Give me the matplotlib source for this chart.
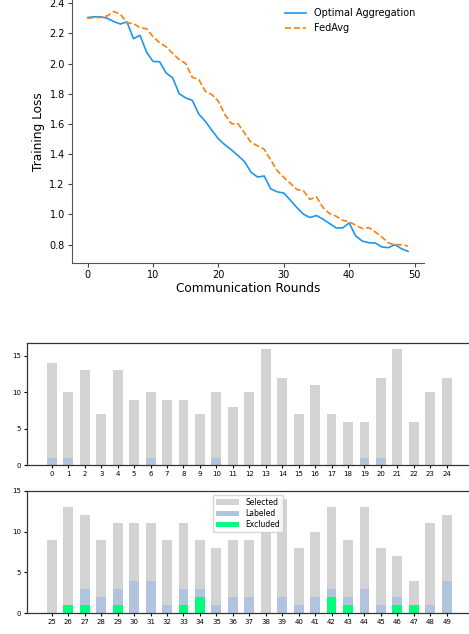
import matplotlib
matplotlib.use("Agg")
import matplotlib.pyplot as plt
import numpy as np

rounds = list(range(50))
optimal = [2.305, 2.31, 2.31, 2.30, 2.278, 2.262, 2.276, 2.165, 2.187, 2.076,
           2.014, 2.012, 1.938, 1.905, 1.80, 1.772, 1.756, 1.665, 1.617, 1.557,
           1.501, 1.461, 1.428, 1.39, 1.35, 1.279, 1.248, 1.255, 1.17, 1.15,
           1.142, 1.095, 1.046, 1.002, 0.98, 0.993, 0.969, 0.94, 0.911, 0.911,
           0.944, 0.858, 0.824, 0.813, 0.811, 0.785, 0.78, 0.80, 0.773, 0.756]
fedavg = [2.30, 2.305, 2.305, 2.316, 2.345, 2.327, 2.271, 2.265, 2.238, 2.231,
          2.178, 2.138, 2.111, 2.067, 2.027, 2.0, 1.909, 1.894, 1.816, 1.794,
          1.75, 1.661, 1.601, 1.601, 1.539, 1.477, 1.455, 1.432, 1.361, 1.29,
          1.246, 1.206, 1.166, 1.157, 1.10, 1.117, 1.046, 1.006, 0.989, 0.962,
          0.951, 0.929, 0.907, 0.913, 0.884, 0.851, 0.811, 0.80, 0.80, 0.791]

clients = list(range(50))
selected = [14, 10, 13, 7, 13, 9, 10, 9, 9, 7, 10, 8, 10, 16, 12, 7, 11, 7, 6, 6, 12, 16, 6, 10, 12,
            9, 13, 12, 9, 11, 11, 11, 9, 11, 9, 8, 9, 9, 10, 14, 8, 10, 13, 9, 13, 8, 7, 4, 11, 12]
labeled = [1, 1, 0, 0, 0, 0, 1, 0, 0, 0, 1, 0, 0, 0, 0, 0, 0, 0, 0, 1, 1, 0, 0, 0, 0,
           0, 1, 3, 2, 3, 4, 4, 1, 3, 3, 1, 2, 2, 0, 2, 1, 2, 3, 2, 3, 1, 2, 1, 1, 4]
excluded = [0] * 25 + [0, 1, 1, 0, 1, 0, 0, 0, 1, 2, 0, 0, 0, 0, 0, 0, 0, 2, 1, 0, 0, 1, 1, 0, 0]

W, H = 469, 634
fig = plt.figure(figsize=(W / 100, H / 100), dpi=100)

def rect(l, t, r, b):
    return [l / W, 1 - b / H, (r - l) / W, (b - t) / H]

# Line plot
ax = fig.add_axes(rect(71.7, -0.5, 424, 263.3))
ax.plot(rounds, optimal, color='#1E96F0', lw=1.2, label='Optimal Aggregation')
ax.plot(rounds, fedavg, color='#FF7F0E', lw=1.2, ls='--', label='FedAvg')
ax.set_xlabel('Communication Rounds', fontsize=8.7, labelpad=1)
ax.set_ylabel('Training Loss', fontsize=8.7, labelpad=3)
ax.set_yticks([0.8, 1.0, 1.2, 1.4, 1.6, 1.8, 2.0, 2.2, 2.4])
ax.set_xticks([0, 10, 20, 30, 40, 50])
ax.tick_params(labelsize=7, length=3, color='#444444', pad=2)
for s in ['top', 'right']:
    ax.spines[s].set_visible(False)
for s in ['left', 'bottom']:
    ax.spines[s].set_color('#555555')
ax.legend(loc='upper right', frameon=False, fontsize=7, handlelength=2.2,
          bbox_to_anchor=(1.0, 1.0))

def bars(ax, idx):
    x = np.arange(len(idx))
    ax.bar(x, [selected[i] for i in idx], width=0.6, color='#D3D3D3', label='Selected')
    ax.bar(x, [labeled[i] for i in idx], width=0.6, color='#B0C4DE', label='Labeled')
    ax.bar(x, [excluded[i] for i in idx], width=0.6, color='#00FF7F', label='Excluded')
    ax.set_xticks(x)
    ax.set_xticklabels([str(i) for i in idx])
    ax.tick_params(labelsize=5, length=2.5, pad=1.5)
    for s in ax.spines.values():
        s.set_color('#333333')
        s.set_linewidth(0.9)

ax1 = fig.add_axes(rect(26.7, 342.7, 471.9, 465.3))
bars(ax1, list(range(0, 25)))
ax1.set_yticks([0, 5, 10, 15])

ax2 = fig.add_axes(rect(26.7, 490.7, 471.9, 613.3))
bars(ax2, list(range(25, 50)))
ax2.set_ylim(0, 15)
ax2.set_yticks([0, 5, 10, 15])
ax2.legend(loc='upper center', fontsize=5.5, handlelength=3, borderpad=0.4,
           labelspacing=0.3, bbox_to_anchor=(0.497, 1.0), fancybox=True)

fig.savefig('out.png', dpi=100)
